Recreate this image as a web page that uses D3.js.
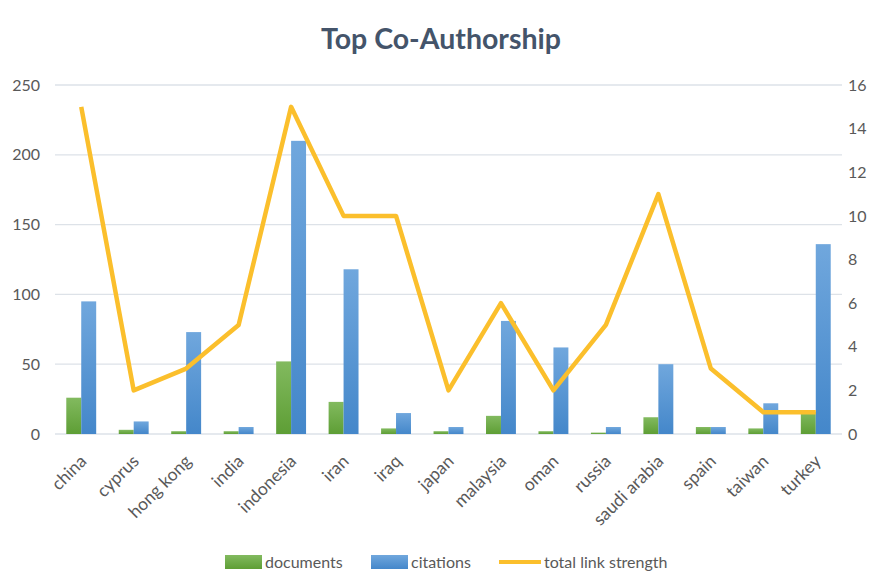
<!DOCTYPE html>
<html><head><meta charset="utf-8">
<script src="https://cdn.jsdelivr.net/npm/d3@7"></script>
<style>body{margin:0;background:#fff}svg{display:block}</style>
</head><body>
<svg id="c" width="876" height="581"></svg>
<script>
const categories = ["china","cyprus","hong kong","india","indonesia","iran","iraq","japan","malaysia","oman","russia","saudi arabia","spain","taiwan","turkey"];
const documents = [26,3,2,2,52,23,4,2,13,2,1,12,5,4,16];
const citations = [95,9,73,5,210,118,15,5,81,62,5,50,5,22,136];
const linkStrength = [15,2,3,5,15,10,10,2,6,2,5,11,3,1,1];
const leftTicks = [0,50,100,150,200,250];
const rightTicks = [0,2,4,6,8,10,12,14,16];

const svg = d3.select("#c");
const font = "Lato, 'Open Sans', sans-serif";
const m = {l:55, r:842, t:85, b:434};

const defs = svg.append("defs");
function grad(id, c1, c2){
  const g = defs.append("linearGradient").attr("id", id).attr("x1",0).attr("y1",0).attr("x2",0).attr("y2",1);
  g.append("stop").attr("offset","0%").attr("stop-color",c1);
  g.append("stop").attr("offset","100%").attr("stop-color",c2);
}
grad("gGreen","#82BA5F","#5E9E35");
grad("gBlue","#70A7DD","#4487CA");

const x = d3.scaleBand().domain(categories).range([m.l, m.r]).paddingInner(0.43).paddingOuter(0.215);
const xs = d3.scaleBand().domain(["documents","citations"]).range([0, x.bandwidth()]);
const yL = d3.scaleLinear().domain([0,250]).range([m.b, m.t]);
const yR = d3.scaleLinear().domain([0,16]).range([m.b, m.t]);

// title
svg.append("text").attr("x",441).attr("y",49).attr("text-anchor","middle")
  .attr("font-family",font).attr("font-weight","bold").attr("font-size",28.5)
  .attr("fill","#44546A").text("Top Co-Authorship");

// gridlines
svg.append("g").selectAll("line").data(leftTicks).join("line")
  .attr("x1",m.l).attr("x2",m.r).attr("y1",d=>yL(d)).attr("y2",d=>yL(d))
  .attr("stroke","#DDE2E8").attr("stroke-width",1.3);

// left axis
const la = svg.append("g").attr("transform",`translate(${m.l},0)`)
  .call(d3.axisLeft(yL).tickValues(leftTicks).tickSize(0).tickPadding(15));
la.select(".domain").remove();
la.selectAll("text").attr("font-family",font).attr("font-size",16).attr("fill","#595959");

// right axis
const ra = svg.append("g").attr("transform",`translate(${m.r},0)`)
  .call(d3.axisRight(yR).tickValues(rightTicks).tickSize(0).tickPadding(6));
ra.select(".domain").remove();
ra.selectAll("text").attr("font-family",font).attr("font-size",16).attr("fill","#595959");

// bars
const groups = svg.append("g").selectAll("g").data(categories).join("g")
  .attr("transform",d=>`translate(${x(d)},0)`);
groups.append("rect").attr("x",xs("documents")).attr("width",xs.bandwidth())
  .attr("y",(d,i)=>yL(documents[i])).attr("height",(d,i)=>yL(0)-yL(documents[i]))
  .attr("fill","url(#gGreen)");
groups.append("rect").attr("x",xs("citations")).attr("width",xs.bandwidth())
  .attr("y",(d,i)=>yL(citations[i])).attr("height",(d,i)=>yL(0)-yL(citations[i]))
  .attr("fill","url(#gBlue)");

// line
const line = d3.line().x((d,i)=>x(categories[i])+x.bandwidth()/2).y(d=>yR(d));
svg.append("path").datum(linkStrength).attr("d",line).attr("fill","none")
  .attr("stroke","#FBBF2C").attr("stroke-width",4.5).attr("stroke-linejoin","round");

// x labels
svg.append("g").selectAll("text").data(categories).join("text")
  .attr("transform",d=>`translate(${x(d)+x.bandwidth()/2+2},${m.b+24}) rotate(-45)`)
  .attr("text-anchor","end").attr("dy","0.35em")
  .attr("font-family",font).attr("font-size",17.5).attr("fill","#595959").text(d=>d);

// legend
const legend = [
  {name:"documents", type:"rect", fill:"url(#gGreen)", x:225},
  {name:"citations", type:"rect", fill:"url(#gBlue)", x:371},
  {name:"total link strength", type:"line", fill:"#FBBF2C", x:499}
];
const lg = svg.append("g").selectAll("g").data(legend).join("g").attr("transform",d=>`translate(${d.x},562)`);
lg.filter(d=>d.type==="rect").append("rect").attr("x",0).attr("y",-7).attr("width",37).attr("height",14).attr("fill",d=>d.fill);
lg.filter(d=>d.type==="line").append("line").attr("x1",0).attr("x2",42).attr("y1",0).attr("y2",0).attr("stroke",d=>d.fill).attr("stroke-width",4);
lg.append("text").attr("x",d=>d.type==="line"?45:40).attr("y",0).attr("dy","0.35em")
  .attr("font-family",font).attr("font-size",16).attr("fill","#595959").text(d=>d.name);
</script>
</body></html>
